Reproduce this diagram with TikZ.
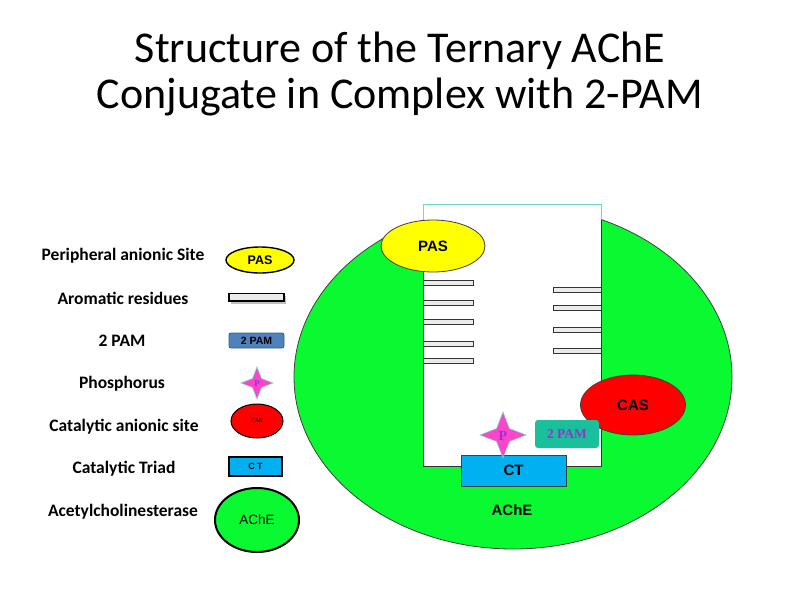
\documentclass[tikz,border=0pt]{standalone}
\usepackage{fontspec}
\setmainfont{Carlito}
\newfontfamily\arialf{Liberation Sans}
\newfontfamily\timesf{Liberation Serif}
\usetikzlibrary{shapes.geometric}
\definecolor{achegreen}{HTML}{0AFA32}
\definecolor{pasyellow}{HTML}{FFFF00}
\definecolor{casred}{HTML}{FF0000}
\definecolor{ctblue}{HTML}{00B0F0}
\definecolor{pamteal}{HTML}{1ABF9C}
\definecolor{pamblue}{HTML}{4F81BD}
\definecolor{starpink}{HTML}{FF44CC}
\definecolor{pviolet}{HTML}{9933CC}
\definecolor{rimteal}{HTML}{70DDC0}
\tikzset{
  legtext/.style={font=\fontsize{17.5}{19}\selectfont\bfseries, anchor=center},
  bar/.style={draw=black!80, fill=black!8, line width=1pt},
}
\newcommand{\mystar}[4]{% name, x, y, r
  \fill[starpink, draw=rimteal, line width=0.6pt] (#2,#3-#4) -- (#2+0.28*#4,#3-0.28*#4) -- (#2+#4,#3) -- (#2+0.28*#4,#3+0.28*#4) -- (#2,#3+#4) -- (#2-0.28*#4,#3+0.28*#4) -- (#2-#4,#3) -- (#2-0.28*#4,#3-0.28*#4) -- cycle;
  \coordinate (#1) at (#2,#3);
}
\begin{document}
\begin{tikzpicture}[x=1pt,y=-1pt]
\useasboundingbox (0,0) rectangle (800,600);
% title
\node[font=\fontsize{44}{46}\selectfont, align=center] (title) at (400,74) {Structure of the Ternary AChE\\Conjugate in Complex with 2-PAM};

% main ellipse
\path[fill=achegreen, draw=black!75, line width=0.8pt] (513,377) ellipse [x radius=219, y radius=172];
\coordinate (ecenter) at (513,377);
% white gorge
\fill[white] (423,204) rectangle (601,466);
\draw[rimteal, line width=0.8pt] (423,222) -- (423,204) -- (601,204) -- (601,221);
\begin{scope}
\clip (513,377) ellipse [x radius=219, y radius=172];
\draw[black!80, line width=0.7pt] (423,204) -- (423,466) -- (601,466) -- (601,204);
\end{scope}

% aromatic bars
\foreach \yy in {283,303,322,344,361} {
  \draw[bar] (423,\yy-2.5) rectangle (473,\yy+2.5);
}
\foreach \yy in {290,308,330,351} {
  \draw[bar] (553,\yy-2.5) rectangle (601,\yy+2.5);
}

% PAS main
\node[ellipse, fill=pasyellow, draw=black!75, line width=0.8pt, minimum width=104pt, minimum height=52pt, inner sep=0pt, font=\arialf\bfseries\fontsize{15}{17}\selectfont] (pas) at (433,246) {PAS};
% CAS main
\node[ellipse, fill=casred, draw=black!75, line width=0.8pt, minimum width=105pt, minimum height=60pt, inner sep=0pt, font=\arialf\bfseries\fontsize{15}{17}\selectfont] (cas) at (633,405) {CAS};
% CT main
\node[rectangle, fill=ctblue, draw=black!75, line width=0.8pt, minimum width=105pt, minimum height=31pt, inner sep=0pt, font=\arialf\bfseries\fontsize{15}{17}\selectfont] (ct) at (513.5,470.5) {CT};
% star main
\mystar{pstar}{503}{435}{23}
\node[font=\timesf\bfseries\fontsize{14}{16}\selectfont, text=pviolet] (plabel) at (503,436) {P};
% 2 PAM main
\node[rectangle, rounded corners=3pt, fill=pamteal, minimum width=64pt, minimum height=28pt, inner sep=0pt, font=\timesf\bfseries\fontsize{13.5}{15}\selectfont, text=pviolet] (pam) at (567,434) {2 PAM};
% AChE main label
\node[font=\arialf\bfseries\fontsize{15}{17}\selectfont] (achelabel) at (512,510) {AChE};

% legend texts
\node[legtext] (l1) at (123,256) {Peripheral anionic Site};
\node[legtext] (l2) at (123,298) {Aromatic residues};
\node[legtext] (l3) at (122,341) {2 PAM};
\node[legtext] (l4) at (122,384) {Phosphorus};
\node[legtext] (l5) at (124,427) {Catalytic anionic site};
\node[legtext] (l6) at (124,469) {Catalytic Triad};
\node[legtext] (l7) at (123,512) {Acetylcholinesterase};

% legend symbols
\node[ellipse, fill=pasyellow, draw=black, line width=1.4pt, minimum width=68pt, minimum height=26pt, inner sep=0pt, font=\arialf\bfseries\fontsize{12.5}{14}\selectfont] (sympas) at (260,260) {PAS};
\fill[black!25] (231,295.5) rectangle (286,304);
\draw[black, line width=1.6pt, fill=black!8] (229,293.5) rectangle (284,301);
\coordinate (symaro) at (256,297);
\node[rectangle, rounded corners=2pt, fill=pamblue, draw=pamblue!70!black, line width=0.8pt, minimum width=55pt, minimum height=15pt, inner sep=0pt, font=\arialf\bfseries\fontsize{10.5}{12}\selectfont] (sympam) at (256.5,340.5) {2 PAM};
\mystar{symstar}{257}{383}{16}
\node[font=\timesf\bfseries\fontsize{9}{10}\selectfont, text=pviolet] (symp) at (257,384) {P};
\node[ellipse, fill=casred, draw=black, line width=1pt, minimum width=52pt, minimum height=34pt, inner sep=0pt, font=\arialf\fontsize{5.5}{7}\selectfont] (symcas) at (257,421) {CAS};
\node[rectangle, fill=ctblue, draw=black, line width=1.4pt, minimum width=53pt, minimum height=19pt, inner sep=0pt, font=\arialf\bfseries\fontsize{9}{11}\selectfont] (symct) at (255.5,466.5) {\addfontfeatures{LetterSpace=25}CT};
\node[ellipse, fill=achegreen, draw=black, line width=2pt, minimum width=84pt, minimum height=64pt, inner sep=0pt, font=\arialf\fontsize{13.5}{15}\selectfont] (symache) at (257,520) {AChE};
\end{tikzpicture}
\end{document}
